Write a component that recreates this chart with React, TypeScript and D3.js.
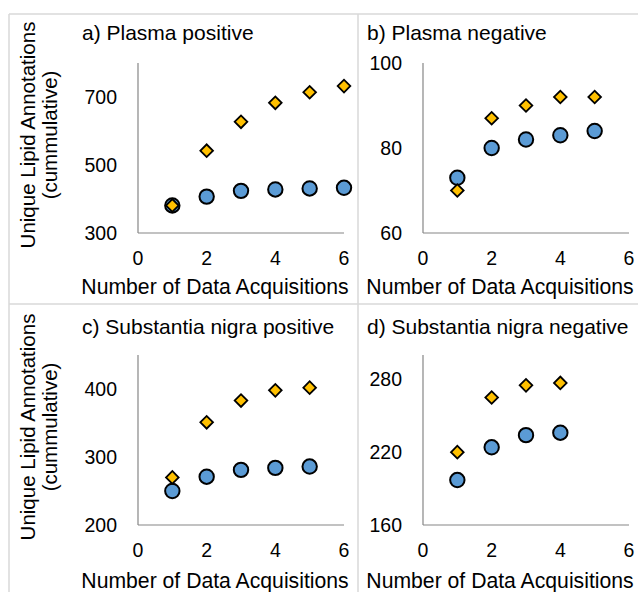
import * as d3 from "d3";
import { useEffect, useRef } from "react";

// x values (number of data acquisitions)
const acqA = [1, 2, 3, 4, 5, 6];
const acqB = [1, 2, 3, 4, 5];
const acqC = [1, 2, 3, 4, 5];
const acqD = [1, 2, 3, 4];

// cumulative annotations: circles (blue) and diamonds (gold)
const circlesA = [381, 407, 424, 428, 431, 433];
const diamondsA = [381, 542, 627, 683, 714, 732];
const circlesB = [73, 80, 82, 83, 84];
const diamondsB = [70, 87, 90, 92, 92];
const circlesC = [250, 271, 281, 284, 286];
const diamondsC = [270, 351, 383, 398, 402];
const circlesD = [197, 224, 234, 236];
const diamondsD = [220, 265, 275, 277];

const titles = [
  "a) Plasma positive",
  "b) Plasma negative",
  "c) Substantia nigra positive",
  "d) Substantia nigra negative",
];
const yDomains: [number, number][] = [
  [300, 800],
  [60, 100],
  [200, 450],
  [160, 300],
];
const yTicks = [
  [300, 500, 700],
  [60, 80, 100],
  [200, 300, 400],
  [160, 220, 280],
];
const xTicks = [0, 2, 4, 6];

const FONT = "'Liberation Sans', Arial, Helvetica, sans-serif";

export default function App() {
  const svgRef = useRef<SVGSVGElement>(null);

  useEffect(() => {
    if (!svgRef.current) return;
    const svg = d3.select(svgRef.current);
    svg.selectAll("*").remove();

    // panel frame lines
    const frame = "#d9d9d9";
    svg.append("line").attr("x1", 9).attr("x2", 638).attr("y1", 14).attr("y2", 14)
      .attr("stroke", frame).attr("stroke-width", 1.5);
    svg.append("line").attr("x1", 9).attr("x2", 638).attr("y1", 304).attr("y2", 304)
      .attr("stroke", frame).attr("stroke-width", 1.5);
    svg.append("line").attr("x1", 9).attr("x2", 9).attr("y1", 14).attr("y2", 592)
      .attr("stroke", frame).attr("stroke-width", 1.5);
    svg.append("line").attr("x1", 358).attr("x2", 358).attr("y1", 14).attr("y2", 592)
      .attr("stroke", frame).attr("stroke-width", 1.5);

    const panels = [
      { x: acqA, c: circlesA, d: diamondsA },
      { x: acqB, c: circlesB, d: diamondsB },
      { x: acqC, c: circlesC, d: diamondsC },
      { x: acqD, c: circlesD, d: diamondsD },
    ];

    panels.forEach((p, i) => {
      const col = i % 2;
      const row = Math.floor(i / 2);
      const left = col === 0 ? 138 : 423;
      const right = col === 0 ? 344 : 629;
      const top = row === 0 ? 63 : 355;
      const bottom = row === 0 ? 233 : 525;
      const offX = col === 0 ? 0 : 285;
      const offY = row === 0 ? 0 : 294;

      const x = d3.scaleLinear().domain([0, 6]).range([left, right]);
      const y = d3.scaleLinear().domain(yDomains[i]).range([bottom, top]);
      const g = svg.append("g");

      // axes lines
      g.append("line").attr("x1", left).attr("x2", left).attr("y1", top).attr("y2", bottom)
        .attr("stroke", "#868686").attr("stroke-width", 1.2);
      g.append("line").attr("x1", left).attr("x2", right).attr("y1", bottom).attr("y2", bottom)
        .attr("stroke", "#868686").attr("stroke-width", 1.2);

      // tick labels
      g.selectAll(".yt").data(yTicks[i]).enter().append("text")
        .attr("x", left - 21).attr("y", (d) => y(d)).attr("dy", "0.35em")
        .attr("text-anchor", "end").attr("font-size", 19.5).attr("font-family", FONT)
        .attr("fill", "#000").text((d) => d);
      g.selectAll(".xt").data(xTicks).enter().append("text")
        .attr("x", (d) => x(d)).attr("y", bottom + 32)
        .attr("text-anchor", "middle").attr("font-size", 19.5).attr("font-family", FONT)
        .attr("fill", "#000").text((d) => d);

      // title
      g.append("text").attr("x", 82 + offX).attr("y", 40 + offY)
        .attr("font-size", 21).attr("font-family", FONT).attr("fill", "#000")
        .text(titles[i]);

      // x axis label
      g.append("text").attr("x", 215 + offX).attr("y", 294 + offY)
        .attr("text-anchor", "middle").attr("font-size", 21.2).attr("font-family", FONT)
        .attr("fill", "#000").text("Number of Data Acquisitions");

      // y axis label (left column only)
      if (col === 0) {
        const cy = (top + bottom) / 2 - 13;
        g.append("text").attr("transform", `translate(34.5,${cy}) rotate(-90)`)
          .attr("text-anchor", "middle").attr("font-size", 20.5).attr("font-family", FONT)
          .attr("fill", "#000").text("Unique Lipid Annotations");
        g.append("text").attr("transform", `translate(57,${cy}) rotate(-90)`)
          .attr("text-anchor", "middle").attr("font-size", 20.5).attr("font-family", FONT)
          .attr("fill", "#000").text("(cummulative)");
      }

      // circles
      g.selectAll(".c").data(p.c).enter().append("circle")
        .attr("cx", (_d, j) => x(p.x[j])).attr("cy", (d) => y(d)).attr("r", 7.2)
        .attr("fill", "#5b9bd5").attr("stroke", "#000").attr("stroke-width", 2);

      // diamonds
      const diamond = d3.symbol().type(d3.symbolSquare).size(80);
      g.selectAll(".d").data(p.d).enter().append("path")
        .attr("d", diamond)
        .attr("transform", (d, j) => `translate(${x(p.x[j])},${y(d)}) rotate(45)`)
        .attr("fill", "#ffc000").attr("stroke", "#000").attr("stroke-width", 1.8);
    });
  }, []);

  return (
    <svg
      ref={svgRef}
      width={638}
      height={592}
      style={{ position: "absolute", left: 0, top: 0, background: "#fff" }}
    />
  );
}
